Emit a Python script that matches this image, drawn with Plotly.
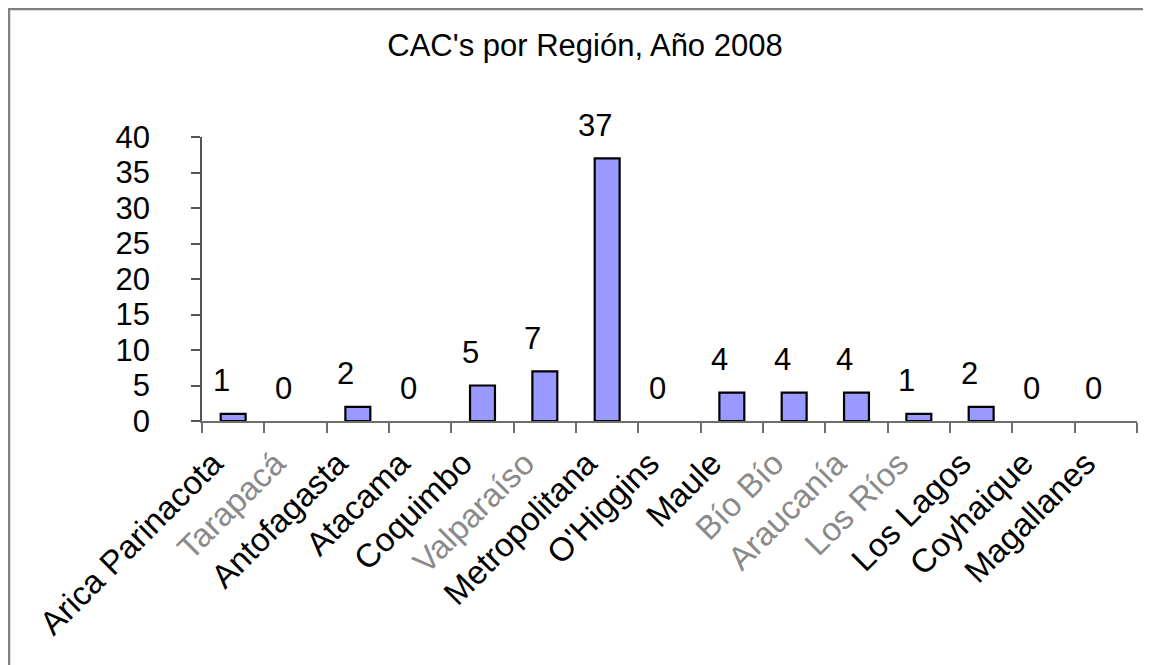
import plotly.graph_objects as go

regions = [
    "Arica Parinacota", "Tarapacá", "Antofagasta", "Atacama", "Coquimbo",
    "Valparaíso", "Metropolitana", "O'Higgins", "Maule", "Bío Bío",
    "Araucanía", "Los Ríos", "Los Lagos", "Coyhaique", "Magallanes",
]
cacs = [1, 0, 2, 0, 5, 7, 37, 0, 4, 4, 4, 1, 2, 0, 0]
# labels that look washed out in the original picture
faded = ["Tarapacá", "Valparaíso", "Bío Bío", "Araucanía", "Los Ríos"]

# the page body adds an 8px margin, so margins are set 8px smaller
W, H = 1151, 665
ml, mr, mt, mb = 194, 22, 129, 252
pw, ph = W - ml - mr, H - mt - mb

font = "Liberation Sans, Arial, sans-serif"

ticktext = [
    f"<span style='color:#8a8a8a'>{r}</span>" if r in faded else r
    for r in regions
]

bars = go.Bar(
    x = regions,
    y = cacs,
    width = 0.4,
    marker = dict(
        color = "#9999FF",
        line = dict(color = "black", width = [2.2 if v else 0 for v in cacs]),
    ),
    hoverinfo = "x+y",
)

fig = go.Figure(data = [bars])

# value labels sit above each bar, a bit left of centre like the Excel original
for r, v in zip(regions, cacs):
    fig.add_annotation(
        x = r, y = v, text = str(v), showarrow = False,
        xshift = -12, yshift = 33, yanchor = "middle",
        font = dict(size = 31, color = "black", family = font),
    )

# thin grey frame around the whole chart
fig.add_shape(
    type = "rect", xref = "paper", yref = "paper",
    x0 = (1 - ml) / pw, x1 = (W + 10 - ml) / pw,
    y0 = -(H + 10 - mt - ph) / ph, y1 = 1 + (mt - 1) / ph,
    line = dict(color = "#808080", width = 2.5),
    layer = "below",
)

fig.update_layout(
    width = W, height = H,
    margin = dict(l = ml, r = mr, t = mt, b = mb, pad = 0),
    paper_bgcolor = "white",
    plot_bgcolor = "white",
    showlegend = False,
    font = dict(family = font, color = "black"),
    title = dict(
        text = "CAC's por Región, Año 2008",
        x = (585 - 8 - ml) / pw, xanchor = "center", xref = "paper",
        y = 1 - 37 / H, yanchor = "middle",
        font = dict(size = 31, family = font, color = "black"),
    ),
    xaxis = dict(
        type = "category",
        tickmode = "array",
        tickvals = regions,
        ticktext = ticktext,
        tickangle = -45,
        tickson = "boundaries",
        ticks = "outside",
        ticklen = 10,
        tickcolor = "#6e6e6e",
        tickwidth = 1.5,
        showline = True,
        linecolor = "#6e6e6e",
        linewidth = 1.5,
        showgrid = False,
        tickfont = dict(size = 33, family = font, color = "black"),
        ticklabelstandoff = 8,
        ticklabelshift = -20,
        range = [-0.5, len(regions) - 0.5],
    ),
    yaxis = dict(
        range = [0, 40],
        tick0 = 0,
        dtick = 5,
        ticks = "outside",
        ticklen = 9,
        tickcolor = "#555555",
        tickwidth = 1.5,
        showline = True,
        linecolor = "#555555",
        linewidth = 1.5,
        showgrid = False,
        zeroline = False,
        tickfont = dict(size = 31, family = font, color = "black"),
        ticklabelstandoff = 35,
    ),
)

fig.write_html("out.html")
